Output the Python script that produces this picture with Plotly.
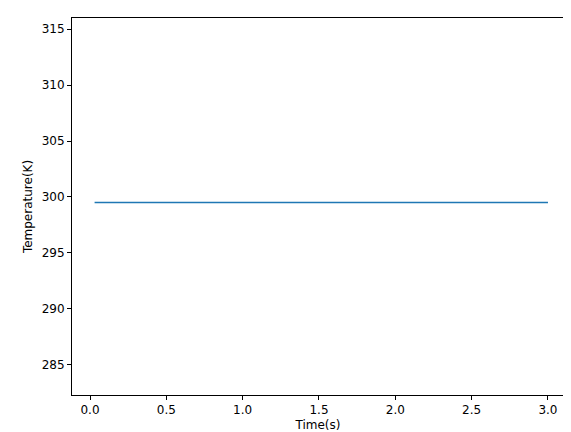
import plotly.graph_objects as go

# time samples and temperature readings
time_s = [0.03, 0.5, 1.0, 1.5, 2.0, 2.5, 3.0]
temp_k = [299.5, 299.5, 299.5, 299.5, 299.5, 299.5, 299.5]

fig = go.Figure()
fig.add_scatter(x=time_s, y=temp_k, mode="lines",
                line=dict(color="#1f77b4", width=1.5), showlegend=False)

axis_style = dict(showline=True, linecolor="black", mirror=True, showgrid=False,
                  zeroline=False, ticks="outside", ticklen=4, tickcolor="black",
                  automargin=False,
                  tickfont=dict(family="DejaVu Sans", size=12, color="black"))

fig.update_xaxes(range=[-0.118, 3.105], tickvals=[0, 0.5, 1, 1.5, 2, 2.5, 3],
                 ticktext=["0.0", "0.5", "1.0", "1.5", "2.0", "2.5", "3.0"],
                 title=dict(text="Time(s)", font=dict(family="DejaVu Sans", size=12, color="black"), standoff=4),
                 **axis_style)
fig.update_yaxes(range=[282.3, 316.0], tickvals=[285, 290, 295, 300, 305, 310, 315],
                 title=dict(text="Temperature(K)", font=dict(family="DejaVu Sans", size=12, color="black"), standoff=6),
                 **axis_style)

fig.update_layout(width=571, height=432, plot_bgcolor="white", paper_bgcolor="white",
                  margin=dict(l=64, r=15, t=10, b=45))

fig.write_html("out.html")
